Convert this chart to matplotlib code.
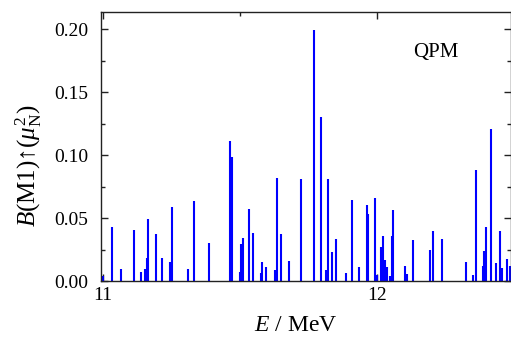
import matplotlib
matplotlib.use("Agg")
import matplotlib.pyplot as plt
from matplotlib.ticker import MultipleLocator

plt.rcParams['font.family'] = ['Liberation Serif', 'DejaVu Serif']
plt.rcParams['mathtext.fontset'] = 'custom'
plt.rcParams['mathtext.rm'] = 'Liberation Serif'
plt.rcParams['mathtext.it'] = 'Liberation Serif:italic'
plt.rcParams['mathtext.bf'] = 'Liberation Serif:bold'

energies = [11.003, 11.033, 11.067, 11.113, 11.141, 11.154, 11.160, 11.166, 11.193, 11.216,
            11.245, 11.251, 11.309, 11.332, 11.388, 11.463, 11.470, 11.500, 11.504, 11.510,
            11.532, 11.548, 11.575, 11.581, 11.595, 11.628, 11.634, 11.649, 11.679, 11.721,
            11.770, 11.795, 11.812, 11.819, 11.836, 11.850, 11.887, 11.908, 11.933, 11.961,
            11.967, 11.993, 11.999, 12.013, 12.020, 12.028, 12.034, 12.047, 12.054, 12.058,
            12.100, 12.107, 12.129, 12.191, 12.201, 12.237, 12.323, 12.350, 12.359, 12.386,
            12.388, 12.397, 12.413, 12.431, 12.446, 12.455, 12.471, 12.482]
strengths = [0.004, 0.0426, 0.0096, 0.0403, 0.0074, 0.0094, 0.018, 0.049, 0.037, 0.0185,
             0.0152, 0.059, 0.0093, 0.0635, 0.0299, 0.1115, 0.0988, 0.0074, 0.029, 0.0345,
             0.057, 0.0378, 0.006, 0.0153, 0.0112, 0.0088, 0.082, 0.037, 0.016, 0.0808,
             0.199, 0.1305, 0.009, 0.081, 0.0232, 0.0333, 0.0066, 0.0643, 0.011, 0.0603,
             0.053, 0.066, 0.005, 0.0272, 0.036, 0.0167, 0.0115, 0.0042, 0.036, 0.0565,
             0.012, 0.0058, 0.0328, 0.025, 0.040, 0.0336, 0.0152, 0.0045, 0.088, 0.012,
             0.024, 0.0426, 0.1205, 0.014, 0.040, 0.010, 0.0172, 0.012]

x_ticks = [11, 12]
x_tick_labels = ['11', '12']
y_ticks = [0.00, 0.05, 0.10, 0.15, 0.20]
y_tick_labels = ['0.00', '0.05', '0.10', '0.15', '0.20']

W, H = 511, 338
fig = plt.figure(figsize=(W / 100, H / 100), dpi=100)
ax = fig.add_axes([101 / W, (H - 281) / H, (510.5 - 101) / W, (281 - 12) / H])

ax.vlines(energies, 0, strengths, colors='#0000ff', linewidth=1.5)

ax.set_xlim(10.994, 12.485)
ax.set_ylim(0, 0.2135)
ax.set_xticks(x_ticks)
ax.set_xticklabels(x_tick_labels)
ax.set_yticks(y_ticks)
ax.set_yticklabels(y_tick_labels)
ax.xaxis.set_minor_locator(MultipleLocator(0.5))
ax.yaxis.set_minor_locator(MultipleLocator(0.025))
ax.tick_params(which='both', direction='in', top=True, right=True, labelsize=14, width=1, color='#222222')
ax.tick_params(which='major', length=5)
ax.tick_params(which='minor', length=3)
ax.tick_params(axis='y', which='major', pad=9)
ax.tick_params(axis='x', which='major', pad=4)
for s in ax.spines.values():
    s.set_linewidth(1.0)
    s.set_color('#222222')

ax.set_xlabel(r'$E$ / MeV', fontsize=17)
ax.set_ylabel(r'$B$(M1)↑($\mu_{\rm N}^{2}$)', fontsize=18)
ax.yaxis.set_label_coords(-0.14, 0.43)
ax.xaxis.set_label_coords(0.475, -0.125)
ax.text(0.818, 0.848, 'QPM', transform=ax.transAxes, fontsize=15, ha='center', va='center')

fig.savefig('out.png', dpi=100)
